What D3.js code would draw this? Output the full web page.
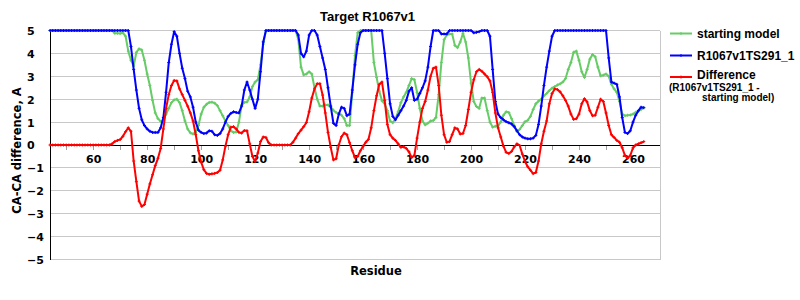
<!DOCTYPE html>
<html>
<head>
<meta charset="utf-8">
<script src="https://cdn.jsdelivr.net/npm/d3@7"></script>
<style>
  body { margin: 0; background: #fff; }
  svg { display: block; }
</style>
</head>
<body>
<div id="chart"></div>
<script>
// residues 44..264, one value per residue
var residues = d3.range(44, 265);

var startingModel = [
  5,5,5,5,5,5,5,5,5,5,
  5,5,5,5,5,5,5,5,5,5,
  5,5,5,5,4.88,4.88,4.87,4.9,4.75,4.1,
  3.7,3.45,4.05,4.2,4.15,3.7,3.1,2.6,1.95,1.4,
  1.15,1.03,1.08,1.35,1.6,1.85,1.97,2.0,1.85,1.5,
  1.05,0.7,0.53,0.48,0.56,0.85,1.35,1.65,1.78,1.86,
  1.87,1.83,1.72,1.5,1.28,1.05,0.85,0.62,0.55,0.57,
  1.0,1.75,1.86,1.88,2.1,2.55,2.75,2.85,3.5,4.4,
  5,5,5,5,5,5,5,5,5,5,
  5,5,4.6,3.4,3.06,3.1,3.2,3.1,2.5,2.0,
  1.7,1.7,1.75,1.75,1.65,1.52,1.42,1.37,1.3,1.15,
  0.85,0.85,2.3,3.9,4.9,5,5,5,5,5,
  3.6,2.95,2.35,1.93,1.8,1.5,1.05,0.97,1.15,1.45,
  1.85,2.1,2.3,2.6,2.9,2.85,2.3,1.6,1.05,0.88,
  0.95,1.05,1.07,1.2,2.2,3.6,4.6,4.8,4.85,4.85,
  4.35,4.25,4.5,4.88,4.5,3.8,2.7,1.9,1.68,1.6,
  2.05,2.05,1.5,1.0,0.78,0.82,0.85,1.0,1.3,1.45,
  1.42,1.15,0.85,0.6,0.68,0.85,1.02,1.08,1.25,1.55,
  1.8,1.92,2.0,2.15,2.25,2.38,2.48,2.55,2.62,2.67,
  2.75,2.9,3.3,3.6,4.05,4.1,3.7,3.2,2.95,3.3,
  3.75,3.95,3.85,3.4,3.02,3.05,3.1,3.0,2.65,2.45,
  2.3,1.9,1.35,1.28,1.3,1.31,1.35,1.43,1.48,1.55,
  1.63
];

var ts291 = [
  5,5,5,5,5,5,5,5,5,5,
  5,5,5,5,5,5,5,5,5,5,
  5,5,5,5,5,5,5,5,5,5,
  4.3,3.3,2.4,1.6,1.1,0.85,0.7,0.6,0.55,0.55,
  0.55,0.75,1.2,2.3,3.6,4.4,4.95,4.75,4.0,3.35,
  2.9,2.35,2.1,1.65,1.0,0.65,0.55,0.5,0.52,0.62,
  0.6,0.45,0.42,0.5,0.7,1.0,1.25,1.38,1.45,1.42,
  1.4,1.7,2.4,2.75,2.4,2.0,1.6,2.0,3.2,4.5,
  5,5,5,5,5,5,5,5,5,5,
  5,5,4.8,4.0,3.85,4.1,4.8,5,5,4.8,
  4.3,3.8,3.3,2.5,1.7,0.95,0.85,1.35,1.65,1.6,
  1.28,1.35,2.4,3.5,4.4,4.9,5,5,5,5,
  5,5,5,5,4.0,2.9,1.8,1.25,1.1,1.3,
  1.5,1.7,1.95,2.35,2.5,1.95,2.0,2.25,2.5,2.8,
  3.4,4.3,5,5,5,4.85,4.85,4.85,5,5,
  5,5,5,5,5,5,5,4.9,4.92,4.95,
  5,5,5,4.75,3.3,1.9,1.35,1.2,1.1,1.02,
  0.97,0.92,0.8,0.62,0.45,0.35,0.3,0.27,0.27,0.3,
  0.42,0.9,1.7,2.6,3.4,4.1,4.75,5,5,5,
  5,5,5,5,5,5,5,5,5,5,
  5,5,5,5,5,5,5,3.8,2.75,2.7,
  2.65,2.1,1.2,0.55,0.5,0.62,1.0,1.3,1.5,1.65,
  1.63
];

var difference = [
  0,0,0,0,0,0,0,0,0,0,
  0,0,0,0,0,0,0,0,0,0,
  0,0,0,0.05,0.15,0.2,0.24,0.38,0.58,0.75,
  0.6,-0.7,-1.6,-2.45,-2.68,-2.6,-2.15,-1.7,-1.3,-0.9,
  -0.58,-0.15,0.7,1.6,2.2,2.6,2.82,2.8,2.45,2.2,
  1.95,1.7,1.4,1.05,0.45,-0.25,-0.75,-1.08,-1.24,-1.28,
  -1.26,-1.24,-1.2,-1.1,-0.65,-0.05,0.45,0.78,0.8,0.7,
  0.55,0.52,0.63,0.62,0.05,-0.5,-0.72,-0.35,0.15,0.35,
  0.33,0.1,0,0,0,0,0,0,0,0,
  0.12,0.3,0.5,0.65,0.8,0.98,1.45,2.05,2.45,2.68,
  2.68,2.18,1.4,0.55,-0.1,-0.65,-0.6,0.0,0.36,0.52,
  0.45,0.1,-0.25,-0.55,-0.5,-0.25,-0.05,0.12,0.25,0.75,
  1.5,2.15,2.65,2.75,1.95,0.9,0.45,0.3,0.2,0.05,
  -0.1,-0.08,-0.15,-0.3,-0.55,-0.45,0.3,1.0,1.6,1.9,
  2.4,3.0,3.35,3.4,2.6,1.3,0.45,0.12,0.15,0.45,
  0.75,0.7,0.48,0.5,0.85,1.55,2.3,2.85,3.2,3.3,
  3.22,3.1,2.98,2.8,2.3,1.4,0.75,0.35,-0.05,-0.32,
  -0.37,-0.28,-0.08,0.05,-0.02,-0.4,-0.72,-0.95,-1.1,-1.25,
  -1.2,-0.7,0.05,0.6,1.05,1.8,2.25,2.45,2.42,2.32,
  2.15,1.95,1.7,1.35,1.12,1.15,1.35,1.8,2.02,1.88,
  1.5,1.28,1.3,1.65,2.0,1.9,1.4,0.85,0.45,0.33,
  0.2,0.12,-0.12,-0.45,-0.58,-0.45,-0.12,0.0,0.05,0.1,
  0.15
];

var yTicks = [-5, -4, -3, -2, -1, 0, 1, 2, 3, 4, 5];
var xTicks = d3.range(50, 261, 10);
var xLabels = [60, 80, 100, 120, 140, 160, 180, 200, 220, 240, 260];

var seriesNames = ['starting model', 'R1067v1TS291_1', 'Difference'];
var seriesColors = ['#66cc66', '#0000ff', '#ff0000'];
var seriesValues = [startingModel, ts291, difference];

var width = 800,
    height = 300,
    plotLeft = 50, plotRight = 660,
    plotTop = 30.5, plotBottom = 259.5;

var tickFont = '"DejaVu Sans", Verdana, sans-serif';
var labelFont = '"Liberation Sans", Arial, sans-serif';

var xScale = d3.scaleLinear()
      .domain([44, 270])
      .range([plotLeft, plotRight]);

var yScale = d3.scaleLinear()
      .domain([-5, 5])
      .range([plotBottom, plotTop]);

var svg = d3.select('#chart').append('svg')
  .attr('width', width)
  .attr('height', height);

// horizontal grid
svg.append('g')
  .selectAll('line').data(yTicks)
  .enter().append('line')
    .attr('x1', plotLeft)
    .attr('x2', plotRight)
    .attr('y1', function(d) { return yScale(d) })
    .attr('y2', function(d) { return yScale(d) })
    .style('stroke', '#c8c8c8')
    .style('stroke-width', 1)
    .attr('shape-rendering', 'crispEdges');

// right border
svg.append('line')
  .attr('x1', plotRight).attr('x2', plotRight)
  .attr('y1', plotTop).attr('y2', plotBottom)
  .style('stroke', '#c8c8c8')
  .attr('shape-rendering', 'crispEdges');

// left axis
var yAxis = d3.axisLeft(yScale)
    .tickValues(yTicks)
    .tickSize(0)
    .tickPadding(0);

var yGuide = svg.append('g')
    .attr('transform', 'translate(' + plotLeft + ',0)');
yAxis(yGuide);
yGuide.select('.domain')
  .style('stroke', '#000')
  .attr('shape-rendering', 'crispEdges');
yGuide.selectAll('text')
  .attr('x', 27 - plotLeft)
  .attr('dy', '0.36em')
  .style('text-anchor', 'start')
  .style('font-family', tickFont)
  .style('font-size', '11px')
  .style('font-weight', 'bold')
  .style('fill', '#000');

// bottom axis at zero
var xAxis = d3.axisBottom(xScale)
    .tickValues(xTicks)
    .tickSize(5)
    .tickPadding(5)
    .tickFormat(function(d) { return xLabels.indexOf(d) >= 0 ? d : '' });

var xGuide = svg.append('g')
    .attr('transform', 'translate(0,' + yScale(0) + ')');
xAxis(xGuide);
xGuide.select('.domain').remove();
xGuide.selectAll('.tick line')
  .style('stroke', '#a0a0a0')
  .attr('shape-rendering', 'crispEdges');
xGuide.selectAll('text')
  .attr('dy', '0.71em')
  .style('font-family', tickFont)
  .style('font-size', '11px')
  .style('font-weight', 'bold')
  .style('fill', '#000');
xGuide.append('line')
  .attr('x1', plotLeft).attr('x2', plotRight)
  .style('stroke', '#000')
  .attr('shape-rendering', 'crispEdges');

// series
var line = d3.line()
    .x(function(d, i) { return xScale(residues[i]) })
    .y(function(d) { return yScale(d) });

var marker = 'M-1.5,0H1.5M0,-1.5V1.5';

seriesValues.forEach(function(values, k) {
  var g = svg.append('g');
  g.append('path')
    .datum(values)
    .attr('d', line)
    .style('fill', 'none')
    .style('stroke', seriesColors[k])
    .style('stroke-width', 2)
    .style('stroke-linejoin', 'round');
  g.selectAll('path.m').data(values)
    .enter().append('path')
      .attr('class', 'm')
      .attr('d', marker)
      .attr('transform', function(d, i) {
        return 'translate(' + xScale(residues[i]) + ',' + yScale(d) + ')';
      })
      .style('stroke', seriesColors[k])
      .style('stroke-width', 1);
});

// titles
svg.append('text')
  .attr('x', 367.5).attr('y', 20.5)
  .style('text-anchor', 'middle')
  .style('font-family', labelFont)
  .style('font-size', '13px')
  .style('font-weight', 'bold')
  .text('Target R1067v1');

svg.append('text')
  .attr('x', 376).attr('y', 275)
  .style('text-anchor', 'middle')
  .style('font-family', tickFont)
  .style('font-size', '11.5px')
  .style('font-weight', 'bold')
  .text('Residue');

svg.append('text')
  .attr('transform', 'translate(20.5,150.5) rotate(-90)')
  .style('text-anchor', 'middle')
  .style('font-family', tickFont)
  .style('font-size', '11.5px')
  .style('font-weight', 'bold')
  .text('CA-CA difference, A');

// legend
var legendY = [33.5, 55.5, 77];
var legendTextY = [4.5, 4.5, 1.5];
var legend = svg.append('g')
  .selectAll('g').data(seriesNames)
  .enter().append('g')
    .attr('transform', function(d, i) { return 'translate(670,' + legendY[i] + ')' });

legend.append('line')
  .attr('x1', 0).attr('x2', 22)
  .style('stroke', function(d, i) { return seriesColors[i] })
  .style('stroke-width', 2);
legend.append('path')
  .attr('d', marker)
  .attr('transform', 'translate(11,0)')
  .style('stroke', function(d, i) { return seriesColors[i] });
legend.append('text')
  .attr('x', 27)
  .attr('y', function(d, i) { return legendTextY[i] })
  .style('font-family', labelFont)
  .style('font-size', '12px')
  .style('font-weight', 'bold')
  .text(function(d) { return d });

svg.append('text')
  .attr('x', 669).attr('y', 90.5)
  .style('font-family', labelFont)
  .style('font-size', '10px')
  .style('font-weight', 'bold')
  .text('(R1067v1TS291_1 -');
svg.append('text')
  .attr('x', 702).attr('y', 101)
  .style('font-family', labelFont)
  .style('font-size', '10px')
  .style('font-weight', 'bold')
  .text('starting model)');
</script>
</body>
</html>
